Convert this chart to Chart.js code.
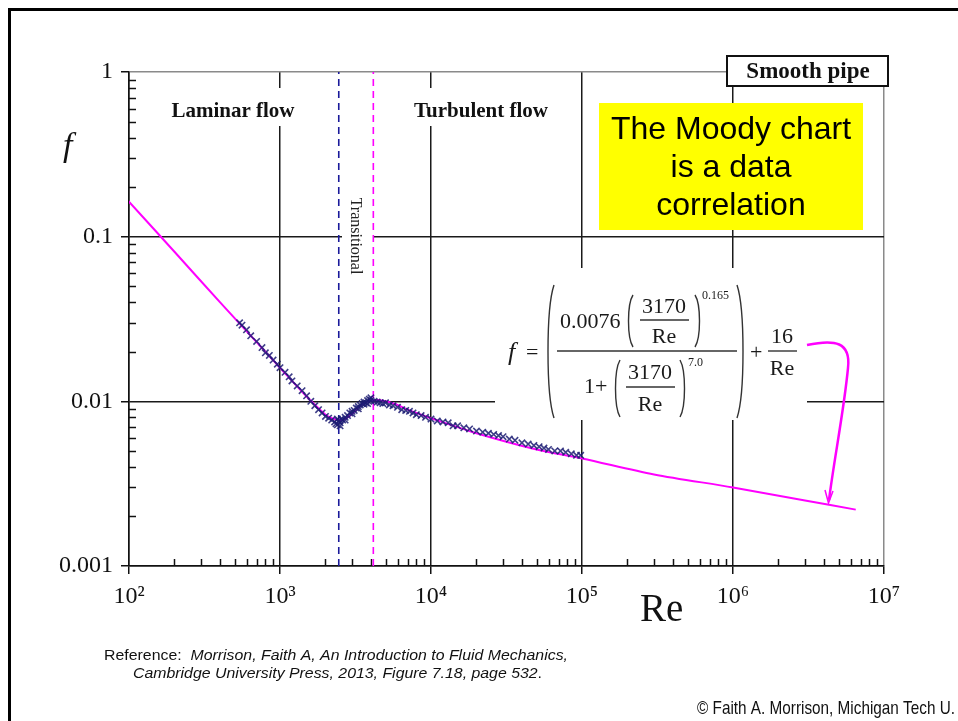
<!DOCTYPE html>
<html>
<head>
<meta charset="utf-8">
<title>Moody chart - smooth pipe</title>
<script src="https://cdn.jsdelivr.net/npm/chart.js@4.4.1/dist/chart.umd.min.js"></script>
<style>
  html, body { margin: 0; padding: 0; background: #fff; }
  #wrap { width: 958px; height: 721px; position: relative; }
</style>
</head>
<body>
<div id="wrap"><canvas id="moody" width="958" height="721"></canvas></div>
<script>
const dataRe = [540, 560, 600, 640, 700, 760, 800, 850, 900, 960, 1000, 1080, 1150, 1200, 1300, 1400, 1500,
  1600, 1700, 1800, 1900, 2000, 2100, 2200, 2300, 2350, 2400, 2400, 2450, 2500, 2500, 2550, 2600, 2700, 2700,
  2800, 2900, 3000, 3000, 3100, 3200, 3300, 3300, 3400, 3500, 3600, 3600, 3700, 3800, 3800, 3900, 4000, 4000,
  4200, 4400, 4600, 4800, 5000, 5300, 5600, 6000, 6400, 6800, 7200, 7600, 8000, 8600, 9200, 10000, 11000,
  12000, 13000, 14000, 15000, 16500, 18000, 20000, 22000, 24000, 26000, 28000, 30000, 33000, 36000, 40000,
  44000, 48000, 52000, 56000, 60000, 66000, 72000, 78000, 85000, 92000, 98000];
const dataF = [0.0300, 0.0290, 0.0272, 0.0250, 0.0231, 0.0212, 0.0197, 0.0190, 0.0178, 0.0168, 0.0160, 0.0150,
  0.0141, 0.0133, 0.0124, 0.0116, 0.0108, 0.0100, 0.0094, 0.0089, 0.0085, 0.0081, 0.0079, 0.0077, 0.0075,
  0.0073, 0.0072, 0.0078, 0.0076, 0.0074, 0.0071, 0.0078, 0.0077, 0.0080, 0.0077, 0.0082, 0.0085, 0.0087,
  0.0084, 0.0088, 0.0091, 0.0093, 0.0090, 0.0095, 0.0097, 0.0099, 0.0096, 0.0098, 0.0101, 0.0097, 0.0103,
  0.0101, 0.0105, 0.0100, 0.0099, 0.0098, 0.0097, 0.0098, 0.0095, 0.0094, 0.0092, 0.0089, 0.0088, 0.0087,
  0.0085, 0.0083, 0.0082, 0.0080, 0.0078, 0.0076, 0.0075, 0.0074, 0.0071, 0.0071, 0.0069, 0.0068, 0.0066,
  0.0065, 0.0064, 0.0063, 0.0062, 0.0061, 0.0059, 0.0058, 0.0056, 0.0055, 0.0054, 0.0053, 0.0052, 0.0051,
  0.0050, 0.0050, 0.0049, 0.0048, 0.0047, 0.0047];

// correlation curve (magenta line)
const fitRe = [96, 200, 400, 700, 1000, 1500, 2000, 2200, 2400, 2600, 2800, 3000, 3200, 3500, 3800, 4100,
  4500, 5000, 6000, 7000, 10000, 20000, 50000, 100000, 300000, 1000000, 3000000, 6500000];
const fitF = [0.170, 0.081, 0.040, 0.0229, 0.0160, 0.0107, 0.0083, 0.0079, 0.0077, 0.0077, 0.0080, 0.0084,
  0.0089, 0.0096, 0.0100, 0.0101, 0.0102, 0.0100, 0.0095, 0.0089, 0.0079, 0.0064, 0.0051, 0.0045, 0.0036,
  0.0030, 0.0025, 0.0022];

// laminar / turbulent limits (dashed lines)
const transitionRe = [2450, 4150];

const xTicks = [1e2, 1e3, 1e4, 1e5, 1e6, 1e7];
const xTickLabels = ['10\u00B2', '10\u00B3', '10\u2074', '10\u2075', '10\u2076', '10\u2077'];
const yTicks = [0.001, 0.01, 0.1, 1];
const yTickLabels = ['0.001', '0.01', '0.1', '1'];

const serif = '"Liberation Serif", "Times New Roman", serif';
const sans = '"Liberation Sans", Arial, sans-serif';
const narrow = '"Liberation Sans Narrow", "Arial Narrow", "Liberation Sans", sans-serif';

// text squeezed/stretched to a given width
function fitText(ctx, parts, x, y, width) {
  let total = 0;
  parts.forEach(p => { ctx.font = p.font; total += ctx.measureText(p.text).width; });
  const k = width / total;
  ctx.save();
  ctx.translate(x, y);
  ctx.scale(k, 1);
  let cx = 0;
  parts.forEach(p => {
    ctx.font = p.font;
    ctx.fillText(p.text, cx, 0);
    cx += ctx.measureText(p.text).width;
  });
  ctx.restore();
}

// tall round bracket, ends at xEnd, belly at xMid
function paren(ctx, xEnd, xMid, top, bottom) {
  const h = bottom - top;
  ctx.beginPath();
  ctx.moveTo(xEnd, top);
  ctx.bezierCurveTo(xMid, top + h * 0.18, xMid, bottom - h * 0.18, xEnd, bottom);
  ctx.stroke();
}

function bar(ctx, x1, x2, y) {
  ctx.beginPath();
  ctx.moveTo(x1, y);
  ctx.lineTo(x2, y);
  ctx.stroke();
}

function centered(ctx, text, x, y) {
  ctx.textAlign = 'center';
  ctx.fillText(text, x, y);
  ctx.textAlign = 'left';
}

const decorations = {
  id: 'decorations',
  beforeDatasetsDraw(chart) {
    const ctx = chart.ctx;
    const xs = chart.scales.x, ys = chart.scales.y;
    const area = chart.chartArea;
    ctx.save();

    // minor ticks, pointing into the plot
    ctx.strokeStyle = '#111';
    ctx.lineWidth = 1.5;
    for (let d = 100; d < 1e7; d *= 10) {
      for (let k = 2; k <= 9; k++) {
        const px = Math.round(xs.getPixelForValue(k * d)) + 0.5;
        ctx.beginPath();
        ctx.moveTo(px, area.bottom);
        ctx.lineTo(px, area.bottom - 7);
        ctx.stroke();
      }
    }
    for (let d = 0.001; d < 0.5; d *= 10) {
      for (let k = 2; k <= 9; k++) {
        const py = Math.round(ys.getPixelForValue(k * d)) + 0.5;
        ctx.beginPath();
        ctx.moveTo(area.left, py);
        ctx.lineTo(area.left + 7, py);
        ctx.stroke();
      }
    }

    ctx.fillStyle = '#fff';
    ctx.fillRect(163, 88, 138, 38);   // Laminar flow
    ctx.fillRect(405, 88, 152, 38);   // Turbulent flow
    ctx.fillRect(342, 188, 31, 96);   // Transitional
    ctx.fillRect(495, 268, 312, 152); // equation

    ctx.fillStyle = '#111';
    ctx.textBaseline = 'alphabetic';
    ctx.font = 'bold 21px ' + serif;
    centered(ctx, 'Laminar flow', 233, 117);
    centered(ctx, 'Turbulent flow', 481, 117);

    ctx.save();
    ctx.translate(351, 236);
    ctx.rotate(Math.PI / 2);
    ctx.font = '16px ' + serif;
    ctx.fillStyle = '#222';
    centered(ctx, 'Transitional', 0, 0);
    ctx.restore();

    // Smooth pipe box
    ctx.fillStyle = '#fff';
    ctx.fillRect(727, 56, 161, 30);
    ctx.strokeStyle = '#111';
    ctx.lineWidth = 2;
    ctx.strokeRect(727, 56, 161, 30);
    ctx.fillStyle = '#111';
    ctx.font = 'bold 23px ' + serif;
    centered(ctx, 'Smooth pipe', 808, 78);

    // yellow call-out
    ctx.fillStyle = '#ffff00';
    ctx.fillRect(599, 103, 264, 127);
    ctx.fillStyle = '#000';
    ctx.font = '32px ' + sans;
    centered(ctx, 'The Moody chart', 731, 139);
    centered(ctx, 'is a data', 731, 177);
    centered(ctx, 'correlation', 731, 215);

    ctx.restore();
  },
  afterDatasetsDraw(chart) {
    const ctx = chart.ctx;
    ctx.save();
    ctx.fillStyle = '#1a1a1a';
    ctx.strokeStyle = '#333';
    ctx.textBaseline = 'alphabetic';

    // equation
    ctx.font = 'italic 26px ' + serif;
    ctx.fillText('f', 508, 360);
    ctx.font = '22px ' + serif;
    ctx.fillText('=', 526, 359);
    ctx.lineWidth = 1.4;
    paren(ctx, 554, 546, 285, 418);
    paren(ctx, 737, 745, 285, 418);
    bar(ctx, 557, 737, 351);
    ctx.fillText('0.0076', 560, 328);
    paren(ctx, 633, 627, 295, 347);
    paren(ctx, 695, 701, 295, 347);
    centered(ctx, '3170', 664, 313);
    bar(ctx, 640, 689, 320);
    centered(ctx, 'Re', 664, 343);
    ctx.fillText('1+', 584, 393);
    paren(ctx, 620, 614, 360, 417);
    paren(ctx, 680, 686, 360, 417);
    centered(ctx, '3170', 650, 379);
    bar(ctx, 626, 675, 387);
    centered(ctx, 'Re', 650, 411);
    ctx.fillText('+', 750, 359);
    centered(ctx, '16', 782, 343);
    bar(ctx, 768, 797, 351);
    centered(ctx, 'Re', 782, 375);
    ctx.font = '12px ' + serif;
    ctx.fillText('0.165', 702, 299);
    ctx.fillText('7.0', 688, 366);

    // arrow from equation to the curve
    ctx.strokeStyle = '#ff00ff';
    ctx.lineWidth = 2.5;
    ctx.beginPath();
    ctx.moveTo(807, 345);
    ctx.bezierCurveTo(835, 339, 851, 342, 848, 368);
    ctx.bezierCurveTo(844, 410, 834, 460, 829, 500);
    ctx.stroke();
    ctx.lineWidth = 1.5;
    ctx.beginPath();
    ctx.moveTo(825, 490);
    ctx.lineTo(828.5, 503);
    ctx.lineTo(833, 491);
    ctx.stroke();

    // axis titles
    ctx.fillStyle = '#111';
    ctx.font = 'italic 34px ' + serif;
    ctx.fillText('f', 63, 156);
    ctx.font = '39px ' + serif;
    ctx.fillText('Re', 640, 621);

    // source lines
    ctx.fillStyle = '#111';
    fitText(ctx, [
      { text: 'Reference:  ', font: '15px ' + narrow },
      { text: 'Morrison, Faith A, An Introduction to Fluid Mechanics,', font: 'italic 15px ' + narrow }
    ], 104, 660, 464);
    fitText(ctx, [
      { text: 'Cambridge University Press, 2013, Figure 7.18, page 532', font: 'italic 15px ' + narrow },
      { text: '.', font: '15px ' + narrow }
    ], 133, 678, 409);
    fitText(ctx, [{ text: '\u00A9 Faith A. Morrison, Michigan Tech U.', font: '19px ' + narrow }], 697, 714, 258);

    // slide frame
    ctx.fillStyle = '#000';
    ctx.fillRect(8, 8, 950, 3);
    ctx.fillRect(8, 8, 3, 713);
    ctx.restore();
  }
};

const ctx = document.getElementById('moody').getContext('2d');
new Chart(ctx, {
  type: 'scatter',
  data: {
    datasets: [
      {
        label: 'Data',
        data: dataRe.map((re, i) => ({ x: re, y: dataF[i] })),
        pointStyle: 'crossRot',
        pointRadius: 4.5,
        borderColor: 'rgba(28, 28, 115, 0.85)',
        borderWidth: 1.6,
        showLine: false
      },
      {
        label: 'Correlation',
        data: fitRe.map((re, i) => ({ x: re, y: fitF[i] })),
        showLine: true,
        borderColor: '#ff00ff',
        borderWidth: 2,
        pointRadius: 0,
        tension: 0.3
      },
      {
        label: 'Laminar limit',
        data: [{ x: transitionRe[0], y: 0.001 }, { x: transitionRe[0], y: 1 }],
        showLine: true,
        borderColor: '#1a1a9a',
        borderWidth: 1.6,
        borderDash: [7, 5],
        pointRadius: 0
      },
      {
        label: 'Turbulent limit',
        data: [{ x: transitionRe[1], y: 0.001 }, { x: transitionRe[1], y: 1 }],
        showLine: true,
        borderColor: '#ff00ff',
        borderWidth: 1.6,
        borderDash: [7, 5],
        pointRadius: 0
      }
    ]
  },
  options: {
    responsive: false,
    animation: false,
    devicePixelRatio: 1,
    layout: { padding: { left: 0, top: 72, right: 74, bottom: 0 } },
    plugins: { legend: { display: false }, tooltip: { enabled: false } },
    scales: {
      x: {
        type: 'logarithmic',
        min: 100,
        max: 1e7,
        afterBuildTicks: s => { s.ticks = xTicks.map(v => ({ value: v })); },
        afterFit: s => { s.height = 155; },
        ticks: {
          autoSkip: false,
          maxRotation: 0,
          padding: 8,
          color: '#111',
          font: { family: serif, size: 24 },
          callback: (v, i) => xTickLabels[i]
        },
        grid: {
          color: c => (c.tick && c.tick.value === 1e7) ? '#8a8a8a' : '#1a1a1a',
          lineWidth: 1.5,
          tickColor: '#111',
          tickLength: 8
        },
        border: { color: '#111', width: 1.5 }
      },
      y: {
        type: 'logarithmic',
        min: 0.001,
        max: 1,
        afterBuildTicks: s => { s.ticks = yTicks.map(v => ({ value: v })); },
        afterFit: s => { s.width = 129; },
        ticks: {
          autoSkip: false,
          padding: 8,
          color: '#111',
          font: { family: serif, size: 24 },
          callback: (v, i) => yTickLabels[i]
        },
        grid: {
          color: c => (c.tick && c.tick.value === 1) ? '#8a8a8a' : '#1a1a1a',
          lineWidth: 1.5,
          tickColor: '#111',
          tickLength: 8
        },
        border: { color: '#111', width: 1.5 }
      }
    }
  },
  plugins: [decorations]
});
</script>
</body>
</html>
